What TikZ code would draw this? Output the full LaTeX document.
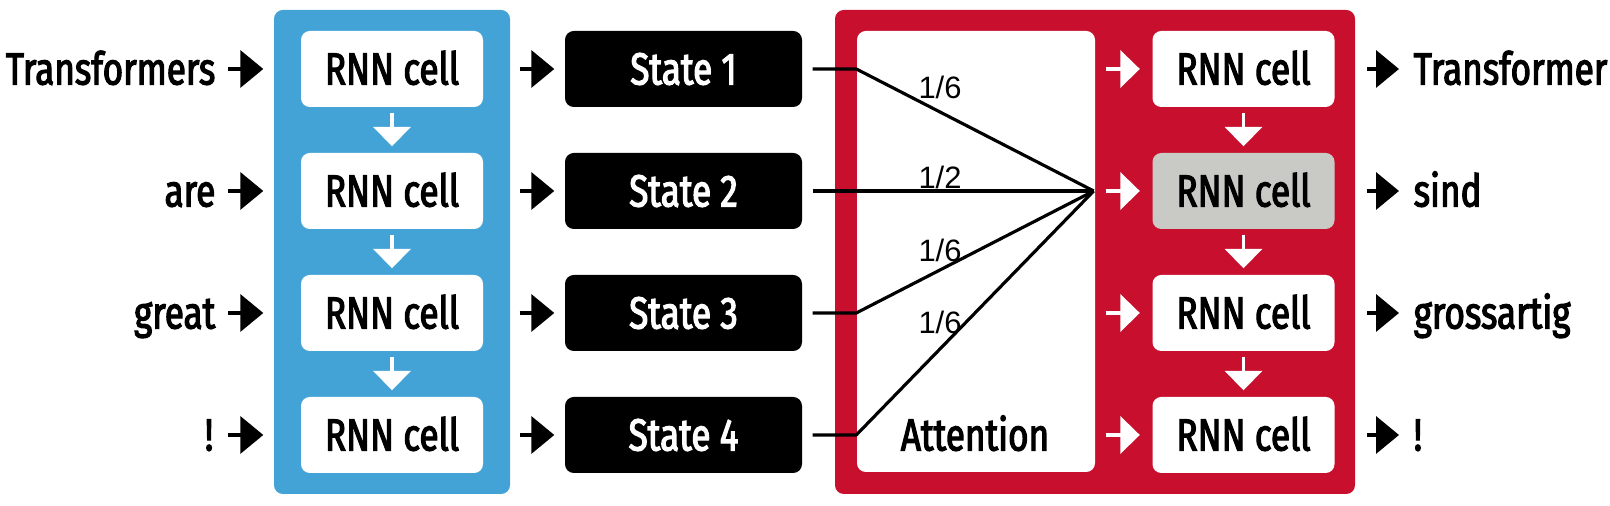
\documentclass[tikz,border=0pt]{standalone}
\usepackage{fontspec}
\setmainfont{Fira Sans}[FakeStretch=0.78, FakeBold=2.6]
\newfontfamily\wfont{Liberation Sans}
\usepackage{xcolor}
\usepackage{tikz}
\usetikzlibrary{positioning,arrows.meta}
\definecolor{cenc}{HTML}{44A3D6}
\definecolor{cdec}{HTML}{C8102E}
\definecolor{cgray}{HTML}{C9C9C5}

\tikzset{
  cell/.style={fill=white, rounded corners=2.5pt, minimum width=1.82cm, minimum height=0.76cm,
    inner sep=0pt, text height=0.31cm, text depth=0pt, font=\fontsize{12.8}{14}\selectfont},
  statebox/.style={cell, fill=black, text=white, minimum width=2.37cm},
  word/.style={inner sep=0pt, text height=0.31cm, text depth=0pt, font=\fontsize{12.8}{14}\selectfont},
  weight/.style={inner sep=0pt, font=\wfont\fontsize{8.8}{10}\selectfont},
  bk/.style={-{Triangle[length=6.5pt,width=10.5pt]}, line width=0.9pt},
  wt/.style={-{Triangle[length=5.5pt,width=10.5pt]}, white, line width=0.9pt},
  wline/.style={line width=0.9pt, line join=round}
}

\begin{document}
\begin{tikzpicture}
    \useasboundingbox (0,0) rectangle (16.1,5.06);

    % encoder
    \node[fill=cenc, rounded corners=2.5pt, minimum width=2.36cm, minimum height=4.84cm] (enc) at (3.92,2.54) {};
    \node[cell] (c1) at (3.92,4.37) {RNN cell};
    \node[cell] (c2) at (3.92,3.15) {RNN cell};
    \node[cell] (c3) at (3.92,1.93) {RNN cell};
    \node[cell] (c4) at (3.92,0.71) {RNN cell};
    \draw[wt] ([yshift=-0.05cm]c1.south) -- ([yshift=0.06cm]c2.north);
    \draw[wt] ([yshift=-0.05cm]c2.south) -- ([yshift=0.06cm]c3.north);
    \draw[wt] ([yshift=-0.05cm]c3.south) -- ([yshift=0.06cm]c4.north);

    \node[word, anchor=east] (in1) at (2.16,4.37) {Transformers};
    \node[word, anchor=east] (in2) at (2.16,3.15) {are};
    \node[word, anchor=east] (in3) at (2.16,1.93) {great};
    \node[word, anchor=east] (in4) at (2.14,0.71) {!};
    \draw[bk] ([xshift=0.12cm]in1.east) -- ([xshift=-0.37cm]c1.west);
    \draw[bk] ([xshift=0.12cm]in2.east) -- ([xshift=-0.37cm]c2.west);
    \draw[bk] ([xshift=0.12cm]in3.east) -- ([xshift=-0.37cm]c3.west);
    \draw[bk] ([xshift=0.14cm]in4.east) -- ([xshift=-0.37cm]c4.west);

    % hidden states
    \node[statebox] (s1) at (6.835,4.37) {State 1};
    \node[statebox] (s2) at (6.835,3.15) {State 2};
    \node[statebox] (s3) at (6.835,1.93) {State 3};
    \node[statebox] (s4) at (6.835,0.71) {State 4};
    \draw[bk] ([xshift=0.36cm]c1.east) -- ([xshift=-0.10cm]s1.west);
    \draw[bk] ([xshift=0.36cm]c2.east) -- ([xshift=-0.10cm]s2.west);
    \draw[bk] ([xshift=0.36cm]c3.east) -- ([xshift=-0.10cm]s3.west);
    \draw[bk] ([xshift=0.36cm]c4.east) -- ([xshift=-0.10cm]s4.west);

    % decoder with attention
    \node[fill=cdec, rounded corners=2.5pt, minimum width=5.2cm, minimum height=4.84cm] (dec) at (10.95,2.54) {};
    \node[fill=white, rounded corners=2.5pt, minimum width=2.38cm, minimum height=4.41cm] (att) at (9.76,2.545) {};
    \node[word] (attl) at (9.75,0.71) {Attention};
    \node[cell] (o1) at (12.435,4.37) {RNN cell};
    \node[cell, fill=cgray] (o2) at (12.435,3.15) {RNN cell};
    \node[cell] (o3) at (12.435,1.93) {RNN cell};
    \node[cell] (o4) at (12.435,0.71) {RNN cell};
    \draw[wt] ([yshift=-0.05cm]o1.south) -- ([yshift=0.06cm]o2.north);
    \draw[wt] ([yshift=-0.05cm]o2.south) -- ([yshift=0.06cm]o3.north);
    \draw[wt] ([yshift=-0.05cm]o3.south) -- ([yshift=0.06cm]o4.north);
    \draw[wt] ([xshift=0.10cm]att.east |- o1) -- ([xshift=-0.12cm]o1.west);
    \draw[wt] ([xshift=0.10cm]att.east |- o2) -- ([xshift=-0.12cm]o2.west);
    \draw[wt] ([xshift=0.10cm]att.east |- o3) -- ([xshift=-0.12cm]o3.west);
    \draw[wt] ([xshift=0.10cm]att.east |- o4) -- ([xshift=-0.12cm]o4.west);

    \coordinate (hub) at ([xshift=-0.02cm]att.east |- o2);
    \draw[wline] ([xshift=0.10cm]s1.east) -- (att.west |- s1) -- (hub);
    \draw[wline] ([xshift=0.10cm]s2.east) -- (hub);
    \draw[wline] ([xshift=0.10cm]s3.east) -- (att.west |- s3) -- (hub);
    \draw[wline] ([xshift=0.10cm]s4.east) -- (att.west |- s4) -- (hub);
    \node[weight] (w1) at (9.40,4.19) {1/6};
    \node[weight] (w2) at (9.40,3.29) {1/2};
    \node[weight] (w3) at (9.40,2.56) {1/6};
    \node[weight] (w4) at (9.40,1.84) {1/6};

    \node[word, anchor=west] (out1) at (14.13,4.37) {Transformer};
    \node[word, anchor=west] (out2) at (14.13,3.15) {sind};
    \node[word, anchor=west] (out3) at (14.13,1.93) {grossartig};
    \node[word, anchor=west] (out4) at (14.13,0.71) {!};
    \draw[bk] ([xshift=0.32cm]o1.east) -- ([xshift=-0.14cm]out1.west);
    \draw[bk] ([xshift=0.32cm]o2.east) -- ([xshift=-0.14cm]out2.west);
    \draw[bk] ([xshift=0.32cm]o3.east) -- ([xshift=-0.14cm]out3.west);
    \draw[bk] ([xshift=0.32cm]o4.east) -- ([xshift=-0.14cm]out4.west);
\end{tikzpicture}
\end{document}
